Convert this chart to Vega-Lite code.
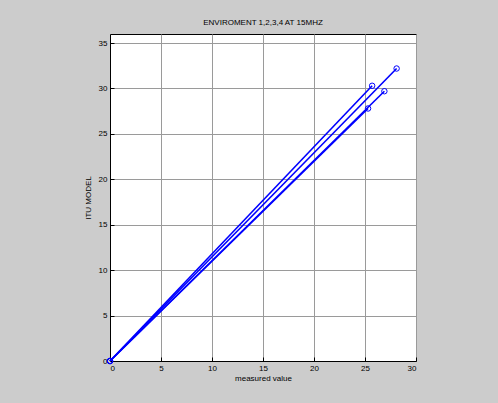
{
  "$schema": "https://vega.github.io/schema/vega-lite/v6.json",
  "width": 306,
  "height": 327,
  "autosize": "none",
  "padding": {"left": 110, "top": 34, "right": 82, "bottom": 42},
  "background": "#cccccc",
  "title": {"text": "ENVIROMENT 1,2,3,4 AT 15MHZ", "font": "Liberation Sans", "fontSize": 8, "fontWeight": "normal", "color": "#000000", "offset": 7, "anchor": "middle"},
  "config": {
    "view": {"fill": "white", "stroke": "black", "strokeWidth": 1},
    "axis": {
      "labelFont": "Liberation Sans", "labelFontSize": 8, "labelColor": "#000000",
      "titleFont": "Liberation Sans", "titleFontSize": 8, "titleFontWeight": "normal", "titleColor": "#000000",
      "gridColor": "#9a9a9a", "gridOpacity": 1, "gridWidth": 1,
      "domainColor": "#000000", "tickColor": "#000000", "tickSize": -4, "labelPadding": 7
    }
  },
  "data": {"values": [
    {"series": "1", "measured": 0, "itu": 0},
    {"series": "1", "measured": 28.1, "itu": 32.2},
    {"series": "2", "measured": 0, "itu": 0},
    {"series": "2", "measured": 25.7, "itu": 30.3},
    {"series": "3", "measured": 0, "itu": 0},
    {"series": "3", "measured": 26.9, "itu": 29.7},
    {"series": "4", "measured": 0, "itu": 0},
    {"series": "4", "measured": 25.3, "itu": 27.8}
  ]},
  "encoding": {
    "x": {"field": "measured", "type": "quantitative", "scale": {"domain": [0, 30], "nice": false, "zero": false},
          "axis": {"title": "measured value", "values": [0, 5, 10, 15, 20, 25, 30], "titlePadding": 2}},
    "y": {"field": "itu", "type": "quantitative", "scale": {"domain": [0, 36], "nice": false, "zero": false},
          "axis": {"title": "ITU MODEL", "values": [0, 5, 10, 15, 20, 25, 30, 35], "titlePadding": 6}},
    "detail": {"field": "series"}
  },
  "layer": [
    {"mark": {"type": "line", "color": "#0000ff", "strokeWidth": 1.6}},
    {"mark": {"type": "point", "shape": "circle", "filled": false, "color": "#0000ff", "size": 30, "strokeWidth": 1, "opacity": 1}}
  ]
}
